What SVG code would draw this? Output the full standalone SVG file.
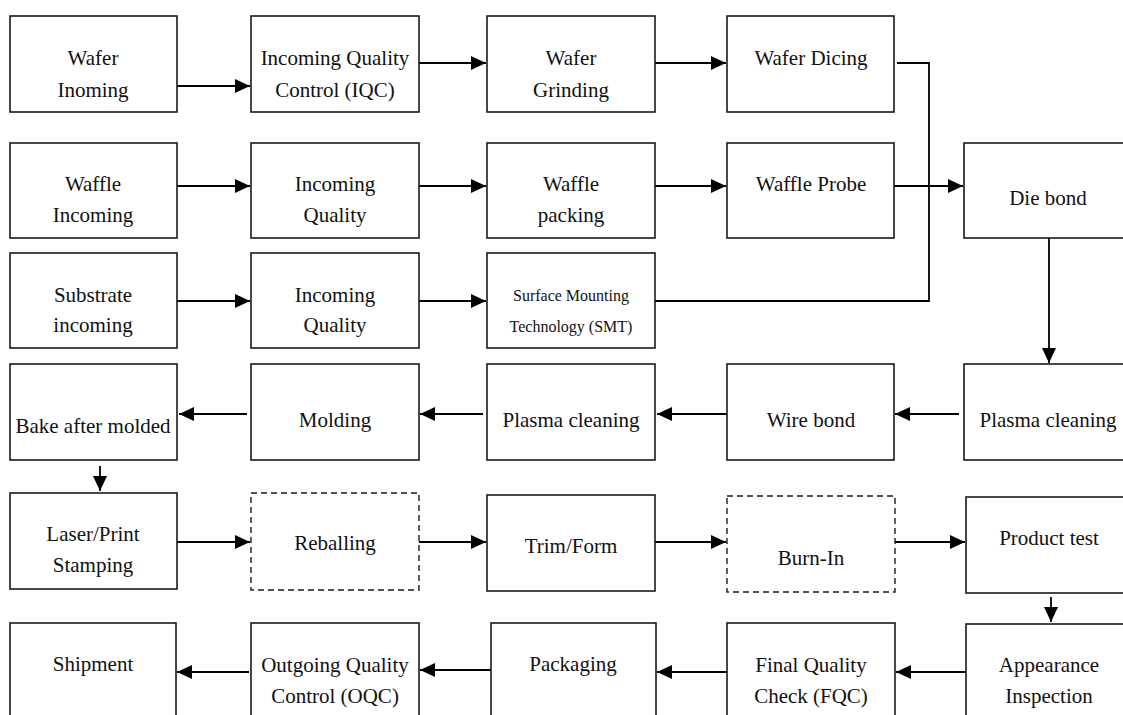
<svg xmlns="http://www.w3.org/2000/svg" width="1123" height="715" viewBox="0 0 1123 715">
<style>
.b{fill:#fff;stroke:#1a1a1a;stroke-width:1.6}
.d{fill:#fff;stroke:#1a1a1a;stroke-width:1.4;stroke-dasharray:6 4}
.t{font-family:"Liberation Serif","Times New Roman",serif;font-size:21px;fill:#111;text-anchor:middle}
.s{font-size:16px}
.c{fill:none;stroke:#000;stroke-width:1.8}
</style>
<defs>
<marker id="ah" markerUnits="userSpaceOnUse" markerWidth="16" markerHeight="14" refX="15" refY="7" orient="auto">
<path d="M0,0 L15,7 L0,14 Z" fill="#000"/>
</marker>
</defs>
<rect width="1123" height="715" fill="#fff"/>
<g id="connectors">
<line class="c" x1="177" y1="86" x2="250" y2="86" marker-end="url(#ah)"/>
<line class="c" x1="419" y1="63" x2="486" y2="63" marker-end="url(#ah)"/>
<line class="c" x1="655" y1="63" x2="726" y2="63" marker-end="url(#ah)"/>
<line class="c" x1="177" y1="186" x2="250" y2="186" marker-end="url(#ah)"/>
<line class="c" x1="419" y1="186" x2="486" y2="186" marker-end="url(#ah)"/>
<line class="c" x1="655" y1="186" x2="726" y2="186" marker-end="url(#ah)"/>
<line class="c" x1="894" y1="186" x2="963" y2="186" marker-end="url(#ah)"/>
<line class="c" x1="177" y1="301" x2="250" y2="301" marker-end="url(#ah)"/>
<line class="c" x1="419" y1="301" x2="486" y2="301" marker-end="url(#ah)"/>
<polyline class="c" points="897,63 929,63 929,301 655,301"/>
<line class="c" x1="1049" y1="238" x2="1049" y2="363" marker-end="url(#ah)"/>
<line class="c" x1="959" y1="414" x2="895" y2="414" marker-end="url(#ah)"/>
<line class="c" x1="727" y1="414" x2="657" y2="414" marker-end="url(#ah)"/>
<line class="c" x1="483" y1="414" x2="420" y2="414" marker-end="url(#ah)"/>
<line class="c" x1="247" y1="414" x2="179" y2="414" marker-end="url(#ah)"/>
<line class="c" x1="100" y1="466" x2="100" y2="491" marker-end="url(#ah)"/>
<line class="c" x1="177" y1="542" x2="250" y2="542" marker-end="url(#ah)"/>
<line class="c" x1="419" y1="542" x2="486" y2="542" marker-end="url(#ah)"/>
<line class="c" x1="655" y1="542" x2="726" y2="542" marker-end="url(#ah)"/>
<line class="c" x1="895" y1="542" x2="965" y2="542" marker-end="url(#ah)"/>
<line class="c" x1="1051" y1="597" x2="1051" y2="622" marker-end="url(#ah)"/>
<line class="c" x1="966" y1="672" x2="896" y2="672" marker-end="url(#ah)"/>
<line class="c" x1="727" y1="672" x2="657" y2="672" marker-end="url(#ah)"/>
<line class="c" x1="491" y1="670" x2="420" y2="670" marker-end="url(#ah)"/>
<line class="c" x1="249" y1="672" x2="177" y2="672" marker-end="url(#ah)"/>
</g>
<g id="n1"><rect class="b" x="10" y="16" width="167" height="96"/><text class="t" x="93" y="65">Wafer</text><text class="t" x="93" y="97">Inoming</text></g>
<g id="n2"><rect class="b" x="251" y="16" width="168" height="96"/><text class="t" x="335" y="65">Incoming Quality</text><text class="t" x="335" y="97">Control (IQC)</text></g>
<g id="n3"><rect class="b" x="487" y="16" width="168" height="96"/><text class="t" x="571" y="65">Wafer</text><text class="t" x="571" y="97">Grinding</text></g>
<g id="n4"><rect class="b" x="727" y="16" width="167" height="96"/><text class="t" x="811" y="65">Wafer Dicing</text></g>
<g id="n5"><rect class="b" x="10" y="143" width="167" height="95"/><text class="t" x="93" y="191">Waffle</text><text class="t" x="93" y="222">Incoming</text></g>
<g id="n6"><rect class="b" x="251" y="143" width="168" height="95"/><text class="t" x="335" y="191">Incoming</text><text class="t" x="335" y="222">Quality</text></g>
<g id="n7"><rect class="b" x="487" y="143" width="168" height="95"/><text class="t" x="571" y="191">Waffle</text><text class="t" x="571" y="222">packing</text></g>
<g id="n8"><rect class="b" x="727" y="143" width="167" height="95"/><text class="t" x="811" y="191">Waffle Probe</text></g>
<g id="n9"><rect class="b" x="964" y="143" width="168" height="95"/><text class="t" x="1048" y="205">Die bond</text></g>
<g id="n10"><rect class="b" x="10" y="253" width="167" height="95"/><text class="t" x="93" y="302">Substrate</text><text class="t" x="93" y="332">incoming</text></g>
<g id="n11"><rect class="b" x="251" y="253" width="168" height="95"/><text class="t" x="335" y="302">Incoming</text><text class="t" x="335" y="332">Quality</text></g>
<g id="n12"><rect class="b" x="487" y="253" width="168" height="95"/><text class="t s" x="571" y="301">Surface Mounting</text><text class="t s" x="571" y="332">Technology (SMT)</text></g>
<g id="n13"><rect class="b" x="10" y="364" width="167" height="96"/><text class="t" x="93" y="433">Bake after molded</text></g>
<g id="n14"><rect class="b" x="251" y="364" width="168" height="96"/><text class="t" x="335" y="427">Molding</text></g>
<g id="n15"><rect class="b" x="487" y="364" width="168" height="96"/><text class="t" x="571" y="427">Plasma cleaning</text></g>
<g id="n16"><rect class="b" x="727" y="364" width="167" height="96"/><text class="t" x="811" y="427">Wire bond</text></g>
<g id="n17"><rect class="b" x="964" y="364" width="168" height="96"/><text class="t" x="1048" y="427">Plasma cleaning</text></g>
<g id="n18"><rect class="b" x="10" y="493" width="167" height="96"/><text class="t" x="93" y="541">Laser/Print</text><text class="t" x="93" y="572">Stamping</text></g>
<g id="n19"><rect class="d" x="251" y="493" width="168" height="97"/><text class="t" x="335" y="550">Reballing</text></g>
<g id="n20"><rect class="b" x="487" y="495" width="168" height="96"/><text class="t" x="571" y="553">Trim/Form</text></g>
<g id="n21"><rect class="d" x="727" y="496" width="168" height="96"/><text class="t" x="811" y="565">Burn-In</text></g>
<g id="n22"><rect class="b" x="966" y="497" width="168" height="96"/><text class="t" x="1049" y="545">Product test</text></g>
<g id="n23"><rect class="b" x="10" y="623" width="166" height="97"/><text class="t" x="93" y="671">Shipment</text></g>
<g id="n24"><rect class="b" x="251" y="623" width="168" height="97"/><text class="t" x="335" y="672">Outgoing Quality</text><text class="t" x="335" y="703">Control (OQC)</text></g>
<g id="n25"><rect class="b" x="491" y="623" width="165" height="97"/><text class="t" x="573" y="671">Packaging</text></g>
<g id="n26"><rect class="b" x="727" y="623" width="168" height="97"/><text class="t" x="811" y="672">Final Quality</text><text class="t" x="811" y="703">Check (FQC)</text></g>
<g id="n27"><rect class="b" x="966" y="624" width="168" height="97"/><text class="t" x="1049" y="672">Appearance</text><text class="t" x="1049" y="703">Inspection</text></g>
</svg>
